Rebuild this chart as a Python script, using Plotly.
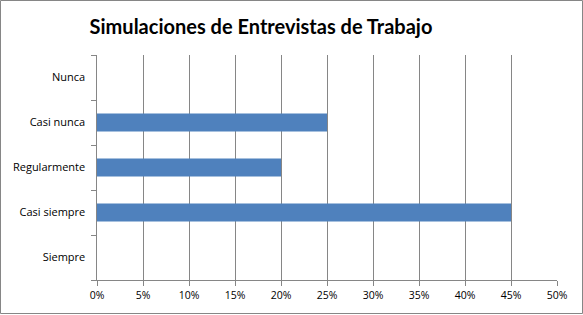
import plotly.graph_objects as go

categories = ["Nunca", "Casi nunca", "Regularmente", "Casi siempre", "Siempre"]
values = [0.0, 0.25, 0.20, 0.45, 0.0]
x_ticks = [0, 0.05, 0.10, 0.15, 0.20, 0.25, 0.30, 0.35, 0.40, 0.45, 0.50]
x_tick_labels = ["0%", "5%", "10%", "15%", "20%", "25%", "30%", "35%", "40%", "45%", "50%"]
title = "Simulaciones de Entrevistas de Trabajo"

W, H = 583, 315
L, R, T, B = 97, 26, 55, 35
pw, ph = W - L - R, H - T - B

def px(x):
    return (x - L) / pw

def py(y):
    return (H - B - y) / ph

fig = go.Figure(go.Bar(
    y=categories, x=values, orientation="h",
    marker=dict(color="#4F81BD", line=dict(width=0)),
    width=0.4,
))

fig.update_layout(
    width=W, height=H,
    margin=dict(l=L, r=R, t=T, b=B),
    paper_bgcolor="white", plot_bgcolor="white",
    showlegend=False,
    font=dict(family="Open Sans", size=10, color="#000000"),
    title=dict(text="<b>" + title + "</b>", x=px(261), xref="paper", xanchor="center",
               y=1 - 27 / H, yanchor="middle",
               font=dict(family="Lato", size=20, color="#000000")),
    xaxis=dict(range=[0, 0.5], tickvals=x_ticks, ticktext=x_tick_labels,
               showgrid=True, gridcolor="#868686", gridwidth=1,
               ticks="outside", ticklen=5, tickcolor="#868686",
               showline=True, linecolor="#868686", zeroline=False,
               tickfont=dict(size=10.5)),
    yaxis=dict(categoryorder="array", categoryarray=categories[::-1],
               ticks="outside", ticklen=5, tickcolor="#868686", tickson="boundaries",
               showline=True, linecolor="#868686", showgrid=False,
               ticksuffix="   ", tickfont=dict(size=11)),
    shapes=[dict(type="rect", xref="paper", yref="paper",
                 x0=px(0.5), x1=px(582.5), y0=py(313.5), y1=py(0.5),
                 line=dict(color="#868686", width=1), fillcolor="rgba(0,0,0,0)",
                 layer="above")],
)

fig.write_html("out.html", config={"displayModeBar": False},
               post_script="document.body.style.margin='0';document.body.style.overflow='hidden';")
